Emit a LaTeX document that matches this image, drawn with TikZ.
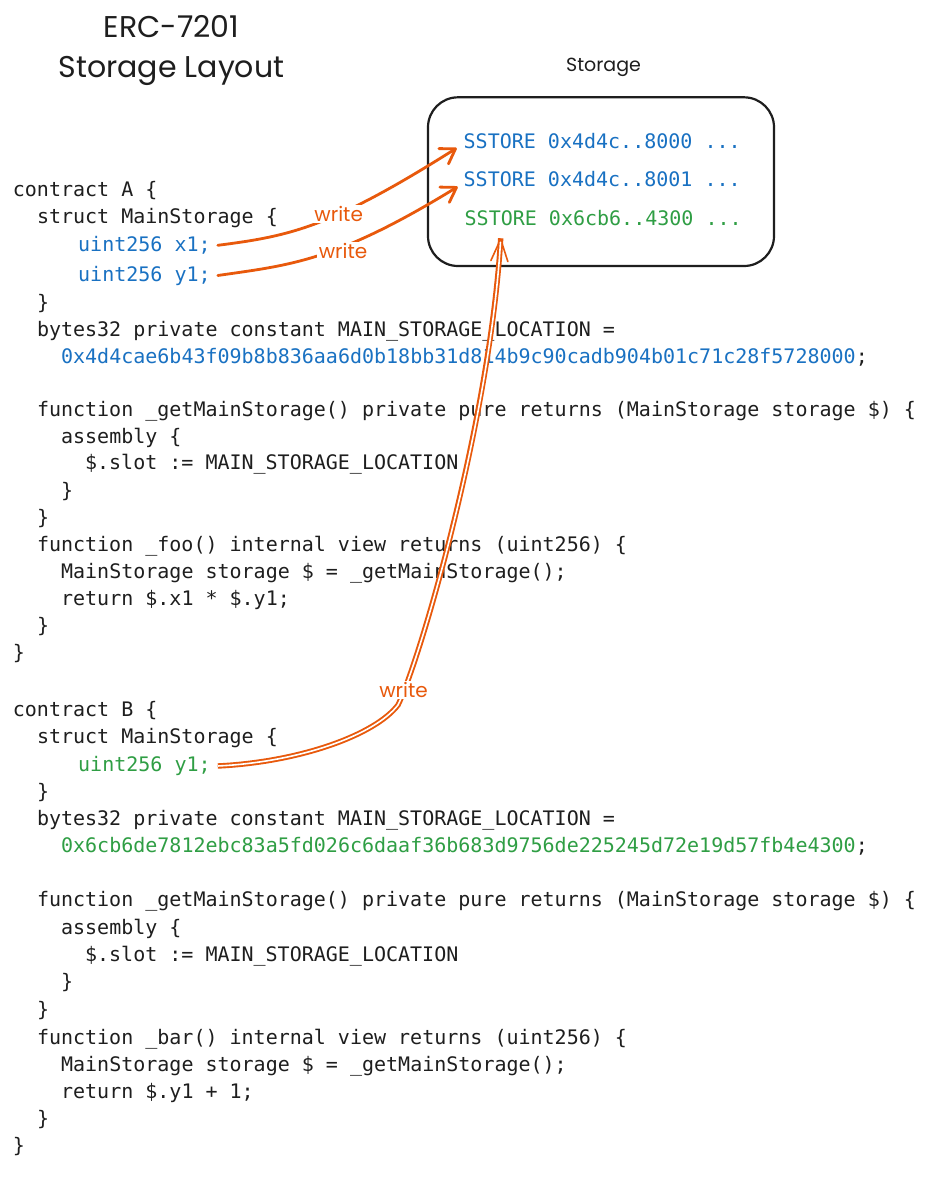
\documentclass[tikz,border=0pt]{standalone}
\usepackage{fontspec}
\setmonofont{DejaVu Sans Mono}
\newfontfamily\hand{Poppins}
\usetikzlibrary{arrows.meta}
\definecolor{ink}{HTML}{1E1E1E}
\definecolor{cblue}{HTML}{1971C2}
\definecolor{cgreen}{HTML}{2F9E44}
\definecolor{corange}{HTML}{E8590C}
\begin{document}
\begin{tikzpicture}[x=1pt,y=-1pt,
  code/.style={anchor=base west, inner sep=0pt, font=\ttfamily\fontsize{20}{24}\selectfont, text=ink},
  bluecode/.style={code, text=cblue},
  greencode/.style={code, text=cgreen},
  hand/.style={font=\hand\fontsize{#1}{#1}\selectfont, text=ink, inner sep=0pt, anchor=base},
  lbl/.style={font=\hand\fontsize{20}{20}\selectfont, text=corange, fill=white, inner sep=1.5pt},
  wire/.style={draw=corange, line width=2.8pt, line cap=round,
    -{Straight Barb[length=14pt,width=18pt,round]}},
  dwire/.style={draw=corange, line width=1.6pt, line cap=round,
    -{Straight Barb[length=22pt,width=17pt,round]},
    preaction={draw=corange, line width=5.4pt, -},
    postaction={draw=white, line width=1.6pt, -, shorten >=4pt}},
  store/.style={draw=ink, line width=2.2pt, rounded corners=30pt}
]
\useasboundingbox[fill=white] (0,0) rectangle (926,1200);

% titles
\node[hand=30] (t1) at (171.5,37.7) {ERC-7201};
\node[hand=30] (t2) at (171.5,77) {Storage Layout};
\node[hand=19] (st) at (603.5,71.7) {Storage};

% storage box
\draw[store] (428,97.3) rectangle (774,266);
\node[bluecode]  (s1) at (463.5,148.3) {SSTORE 0x4d4c..8000 ...};
\node[bluecode]  (s2) at (463.5,186.3) {SSTORE 0x4d4c..8001 ...};
\node[greencode] (s3) at (464.5,225) {SSTORE 0x6cb6..4300 ...};

% contract A
\node[code] (a1) at (12.7,196) {contract A \{};
\node[code] (a2) at (36.8,223) {struct MainStorage \{};
\node[bluecode] (ax1) at (78,251.5) {uint256 x1;};
\node[bluecode] (ay1) at (78,281) {uint256 y1;};
\node[code] (a5) at (36.8,309) {\}};
\node[code] (a6) at (36.8,336) {bytes32 private constant MAIN\_STORAGE\_LOCATION =};
\node[code] (a7) at (60.9,363) {\textcolor{cblue}{0x4d4cae6b43f09b8b836aa6d0b18bb31d814b9c90cadb904b01c71c28f5728000};};
\node[code] (a9) at (36.8,416) {function \_getMainStorage() private pure returns (MainStorage storage \$) \{};
\node[code] (a10) at (60.9,443) {assembly \{};
\node[code] (a11) at (84.9,469.5) {\$.slot := MAIN\_STORAGE\_LOCATION};
\node[code] (a12) at (60.9,497) {\}};
\node[code] (a13) at (36.8,524) {\}};
\node[code] (a14) at (36.8,551.5) {function \_foo() internal view returns (uint256) \{};
\node[code] (a15) at (60.9,578.5) {MainStorage storage \$ = \_getMainStorage();};
\node[code] (a16) at (60.9,605) {return \$.x1 * \$.y1;};
\node[code] (a17) at (36.8,632) {\}};
\node[code] (a18) at (12.7,659) {\}};

% contract B
\node[code] (b1) at (12.7,716.5) {contract B \{};
\node[code] (b2) at (36.8,743.5) {struct MainStorage \{};
\node[greencode] (by1) at (78,771.5) {uint256 y1;};
\node[code] (b4) at (36.8,798.5) {\}};
\node[code] (b5) at (36.8,825) {bytes32 private constant MAIN\_STORAGE\_LOCATION =};
\node[code] (b6) at (60.9,852.5) {\textcolor{cgreen}{0x6cb6de7812ebc83a5fd026c6daaf36b683d9756de225245d72e19d57fb4e4300};};
\node[code] (b8) at (36.8,906.5) {function \_getMainStorage() private pure returns (MainStorage storage \$) \{};
\node[code] (b9) at (60.9,934) {assembly \{};
\node[code] (b10) at (84.9,961.5) {\$.slot := MAIN\_STORAGE\_LOCATION};
\node[code] (b11) at (60.9,988.5) {\}};
\node[code] (b12) at (36.8,1016) {\}};
\node[code] (b13) at (36.8,1044.5) {function \_bar() internal view returns (uint256) \{};
\node[code] (b14) at (60.9,1071.5) {MainStorage storage \$ = \_getMainStorage();};
\node[code] (b15) at (60.9,1098.5) {return \$.y1 + 1;};
\node[code] (b16) at (36.8,1125.5) {\}};
\node[code] (b17) at (12.7,1152.5) {\}};

% arrow end points
\coordinate (e1) at (456.7,148);
\coordinate (e2) at (457.7,186.7);
\coordinate (e3) at (500.7,238.3);

% connectors
\draw[wire] ([xshift=7pt]ax1.east) .. controls (290,236) and (330,228) .. (e1)
  node[lbl, pos=0.6] (w1) {write};
\draw[wire] ([xshift=7pt]ay1.east) .. controls (290,265) and (335,262) .. (e2)
  node[lbl, pos=0.6, xshift=2pt, yshift=-4pt] (w2) {write};
\draw[dwire] ([xshift=7pt]by1.east) .. controls (300,762) and (375,735) .. (398,705)
  .. controls (420,660) and (490,420) .. (e3);
\node[lbl] (w3) at (403.5,690) {write};
\end{tikzpicture}
\end{document}
